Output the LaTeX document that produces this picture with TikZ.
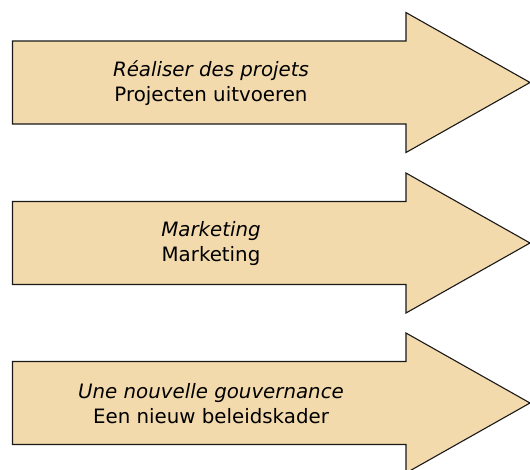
\documentclass[tikz,border=0pt]{standalone}
\usepackage{fontspec}
\setmainfont{DejaVu Sans}
\definecolor{arrow_tan}{HTML}{F2DAAC}

\begin{document}
\begin{tikzpicture}[x=1pt,y=-1pt]
	\useasboundingbox (0,0) rectangle (530,469);
	\foreach \y/\fr/\nl [count=\i] in {82.5/{Réaliser des projets}/{Projecten uitvoeren}, 243/{Marketing}/{Marketing}, 403/{Une nouvelle gouvernance}/{Een nieuw beleidskader}} {
		\draw [fill=arrow_tan, draw=black!90, line width=1.1pt] (12.5,\y-41.5) -- (406,\y-41.5) -- (406,\y-70) -- (530,\y) -- (406,\y+70) -- (406,\y+41.5) -- (12.5,\y+41.5) -- cycle;
		\node [align=center, font=\fontsize{19.8}{25}\selectfont] (label\i) at (211,\y+1) {\textit{\fr}\\\nl};
	}
\end{tikzpicture}
\end{document}
